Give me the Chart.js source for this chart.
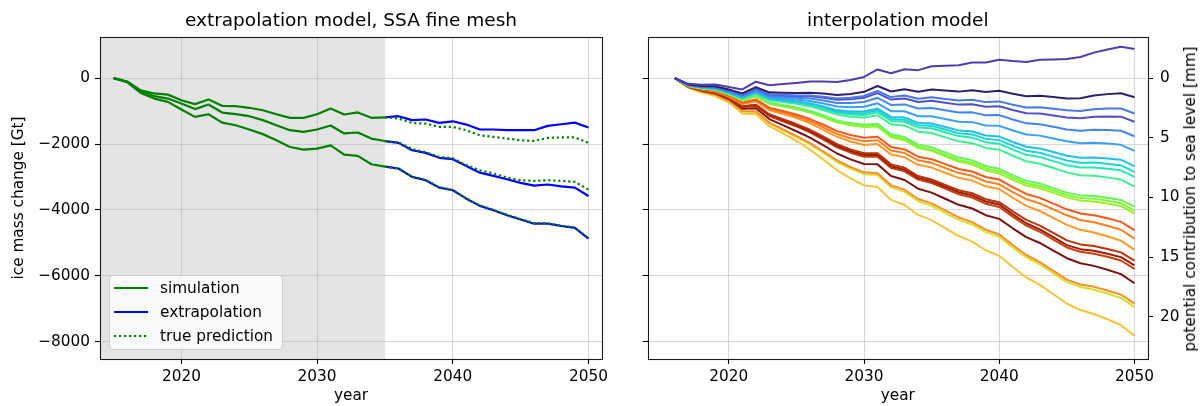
<!DOCTYPE html>
<html><head><meta charset="utf-8">
<script src="https://cdn.jsdelivr.net/npm/chart.js@4.4.1/dist/chart.umd.min.js"></script>
<style>
html,body{margin:0;padding:0;background:#fff;}
body{width:1200px;height:406px;position:relative;overflow:hidden;font-family:"DejaVu Sans",sans-serif;color:#000;}
canvas{position:absolute;top:0;}
#c1{left:0;}
#c2{left:614px;}
#legend{position:absolute;left:109px;top:275px;width:174px;height:75px;box-sizing:border-box;background:rgba(255,255,255,0.8);border:1px solid #cccccc;border-radius:4px;font-size:15.3px;}
.row{position:absolute;left:0;height:20px;width:172px;}
.row svg{position:absolute;left:3px;top:0;}
.row span{position:absolute;left:50px;top:0;line-height:20px;white-space:nowrap;}
#ylab2{position:absolute;left:1190px;top:199px;transform:translate(-50%,-50%) rotate(-90deg);white-space:nowrap;font-size:15.3px;}
</style></head><body>
<canvas id="c1" width="614" height="406"></canvas>
<canvas id="c2" width="586" height="406"></canvas>
<div id="legend"></div>
<div id="ylab2">potential contribution to sea level [mm]</div>
<script>
// ---------- data ----------
const xTicks = [2020, 2030, 2040, 2050];
const gtTicks = [-8000, -6000, -4000, -2000, 0];
const mmTicks = [0, 5, 10, 15, 20];
const shadeEnd = 2035;

const simYears = [2015,2016,2017,2018,2019,2020,2021,2022,2023,2024,2025,2026,2027,2028,2029,2030,2031,2032,2033,2034,2035];
const simA = [0,-100,-370,-465,-500,-670,-790,-650,-840,-850,-900,-975,-1095,-1205,-1205,-1095,-920,-1105,-1040,-1205,-1190];
const simB = [0,-110,-400,-547,-620,-770,-940,-800,-1045,-1095,-1155,-1275,-1430,-1580,-1630,-1560,-1440,-1680,-1650,-1835,-1910];
const simC = [0,-120,-450,-620,-720,-950,-1175,-1095,-1350,-1430,-1560,-1700,-1885,-2090,-2170,-2140,-2040,-2320,-2360,-2615,-2685];

const extYears = [2035,2036,2037,2038,2039,2040,2041,2042,2043,2044,2045,2046,2047,2048,2049,2050];
const extA = [-1190,-1155,-1275,-1255,-1360,-1310,-1410,-1560,-1560,-1580,-1580,-1580,-1450,-1400,-1350,-1500];
const trueA = [-1190,-1225,-1360,-1380,-1480,-1480,-1580,-1735,-1785,-1835,-1885,-1905,-1815,-1800,-1800,-1965];
const extB = [-1910,-1965,-2190,-2270,-2420,-2460,-2665,-2870,-2970,-3070,-3180,-3265,-3230,-3285,-3325,-3580];
const trueB = [-1910,-1950,-2150,-2250,-2390,-2430,-2640,-2800,-2890,-3020,-3100,-3120,-3100,-3120,-3150,-3385];
const extC = [-2685,-2745,-3000,-3100,-3325,-3405,-3660,-3880,-4010,-4165,-4295,-4420,-4420,-4490,-4550,-4875];
const trueC = [-2685,-2750,-2990,-3090,-3310,-3395,-3650,-3870,-4000,-4150,-4280,-4400,-4410,-4480,-4540,-4860];

// interpolation model, sea-level contribution in mm (positive = loss)
const interpYears = [2016,2017,2018,2019,2020,2021,2022,2023,2024,2025,2026,2027,2028,2029,2030,2031,2032,2033,2034,2035,2036,2037,2038,2039,2040,2041,2042,2043,2044,2045,2046,2047,2048,2049,2050];
const interp01 = [0,0.48,0.55,0.53,0.75,0.95,0.3,0.6,0.5,0.4,0.29,0.28,0.32,0.16,-0.1,-0.73,-0.41,-0.74,-0.67,-1.0,-1.04,-1.08,-1.32,-1.31,-1.55,-1.43,-1.36,-1.54,-1.57,-1.6,-1.77,-2.14,-2.41,-2.63,-2.45];
const interp02 = [0,0.53,0.65,0.68,0.95,1.28,0.76,1.19,1.22,1.25,1.22,1.29,1.41,1.33,1.15,0.66,1.12,0.93,1.14,0.95,1.04,1.13,1.02,1.16,1.05,1.31,1.52,1.48,1.59,1.7,1.68,1.46,1.34,1.27,1.6];
const interp03 = [0,0.55,0.7,0.75,1.05,1.4,0.9,1.35,1.4,1.45,1.45,1.55,1.7,1.65,1.5,1.07,1.59,1.46,1.73,1.6,1.74,1.88,1.82,2.01,1.95,2.23,2.46,2.44,2.57,2.7,2.75,2.6,2.55,2.55,2.96];
const interp04 = [0,0.55,0.7,0.75,1.05,1.41,0.92,1.38,1.44,1.5,1.52,1.64,1.81,1.78,1.65,1.25,1.8,1.7,2.0,1.9,2.06,2.22,2.18,2.39,2.35,2.67,2.94,2.96,3.13,3.3,3.37,3.24,3.21,3.23,3.66];
const interp05 = [0,0.56,0.73,0.79,1.1,1.48,1.01,1.49,1.57,1.65,1.71,1.87,2.08,2.09,2.0,1.65,2.25,2.2,2.55,2.5,2.69,2.88,2.87,3.11,3.1,3.47,3.79,3.86,4.08,4.3,4.41,4.33,4.34,4.41,4.87];
const interp06 = [0,0.58,0.75,0.83,1.15,1.55,1.1,1.6,1.7,1.8,1.91,2.12,2.38,2.44,2.4,2.11,2.77,2.78,3.19,3.2,3.43,3.66,3.69,3.97,4.0,4.39,4.73,4.82,5.06,5.3,5.46,5.42,5.48,5.59,6.1];
const interp07 = [0,0.59,0.78,0.86,1.2,1.62,1.19,1.71,1.83,1.95,2.11,2.37,2.68,2.79,2.8,2.55,3.25,3.3,3.75,3.8,4.09,4.38,4.47,4.81,4.9,5.35,5.75,5.9,6.2,6.5,6.68,6.65,6.73,6.85,7.38];
const interp08 = [0,0.59,0.78,0.86,1.2,1.63,1.21,1.74,1.87,2.0,2.18,2.46,2.79,2.92,2.95,2.71,3.42,3.48,3.94,4.0,4.31,4.62,4.73,5.09,5.2,5.67,6.09,6.26,6.58,6.9,7.09,7.08,7.18,7.32,7.86];
const interp09 = [0,0.6,0.8,0.9,1.25,1.68,1.26,1.79,1.92,2.05,2.25,2.55,2.9,3.05,3.1,2.87,3.59,3.66,4.13,4.2,4.53,4.86,4.99,5.37,5.5,5.99,6.43,6.62,6.96,7.3,7.5,7.49,7.59,7.73,8.28];
const interp10 = [0,0.6,0.8,0.9,1.25,1.7,1.3,1.85,2.0,2.15,2.37,2.69,3.06,3.23,3.3,3.11,3.87,3.98,4.49,4.6,4.95,5.3,5.45,5.85,6.0,6.51,6.97,7.18,7.54,7.9,8.14,8.18,8.32,8.51,9.1];
const interp11 = [0,0.61,0.83,0.94,1.3,1.8,1.45,2.05,2.25,2.45,2.73,3.11,3.54,3.77,3.9,3.83,4.71,4.94,5.57,5.8,6.23,6.66,6.89,7.37,7.6,8.13,8.61,8.84,9.22,9.6,9.84,9.88,10.02,10.21,10.8];
const interp12 = [0,0.63,0.85,0.98,1.35,1.86,1.52,2.13,2.34,2.55,2.83,3.21,3.64,3.87,4.0,3.95,4.85,5.1,5.75,6.0,6.43,6.86,7.09,7.57,7.8,8.33,8.81,9.04,9.42,9.8,10.06,10.12,10.28,10.49,11.1];
const interp13 = [0,0.63,0.85,0.98,1.35,1.87,1.54,2.16,2.38,2.6,2.89,3.28,3.72,3.96,4.1,4.05,4.95,5.2,5.85,6.1,6.55,7.0,7.25,7.75,8.0,8.53,9.01,9.24,9.62,10.0,10.27,10.34,10.51,10.73,11.35];
const interp14 = [0,0.65,0.9,1.05,1.45,2.04,1.78,2.47,2.76,3.05,3.43,3.91,4.44,4.77,5.0,4.91,5.77,5.98,6.59,6.8,7.21,7.62,7.83,8.29,8.5,9.13,9.71,10.04,10.52,11.0,11.35,11.5,11.75,12.05,12.75];
const interp15 = [0,0.66,0.93,1.09,1.5,2.11,1.87,2.58,2.89,3.2,3.61,4.12,4.68,5.04,5.3,5.21,6.07,6.28,6.89,7.1,7.53,7.96,8.19,8.67,8.9,9.55,10.15,10.5,11.0,11.5,11.89,12.08,12.37,12.71,13.45];
const interp16 = [0,0.68,0.95,1.13,1.55,2.18,1.96,2.69,3.02,3.35,3.79,4.33,4.92,5.31,5.6,5.53,6.41,6.64,7.27,7.5,7.93,8.36,8.59,9.07,9.3,10.03,10.71,11.14,11.72,12.3,12.72,12.94,13.26,13.63,14.4];
const interp17 = [0,0.7,1.0,1.2,1.65,2.36,2.22,3.03,3.44,3.85,4.33,4.91,5.54,5.97,6.3,6.29,7.23,7.52,8.21,8.5,8.95,9.4,9.65,10.15,10.4,11.17,11.89,12.36,12.98,13.6,13.94,14.08,14.32,14.61,15.3];
const interp18 = [0,0.7,1.0,1.2,1.65,2.38,2.26,3.09,3.52,3.95,4.44,5.03,5.67,6.11,6.45,6.44,7.38,7.67,8.36,8.65,9.11,9.57,9.83,10.34,10.6,11.41,12.17,12.68,13.34,14.0,14.34,14.48,14.72,15.01,15.7];
const interp19 = [0,0.71,1.03,1.24,1.7,2.44,2.33,3.17,3.61,4.05,4.55,5.15,5.8,6.25,6.6,6.59,7.53,7.82,8.51,8.8,9.27,9.74,10.01,10.53,10.8,11.61,12.37,12.88,13.54,14.2,14.56,14.72,14.98,15.29,16.0];
const interp20 = [0,0.73,1.05,1.28,1.75,2.56,2.52,3.43,3.94,4.45,4.99,5.63,6.32,6.81,7.2,7.23,8.21,8.54,9.27,9.6,10.11,10.62,10.93,11.49,11.8,12.59,13.33,13.82,14.46,15.1,15.52,15.74,16.06,16.43,17.2];
const interp21 = [0,0.76,1.13,1.39,1.9,2.76,2.77,3.73,4.29,4.85,5.45,6.15,6.9,7.45,7.9,7.97,8.99,9.36,10.13,10.5,11.09,11.68,12.07,12.71,13.1,13.99,14.83,15.42,16.16,16.9,17.3,17.5,17.8,18.15,18.9];
const interp22 = [0,0.78,1.15,1.43,1.95,2.82,2.84,3.81,4.38,4.95,5.56,6.27,7.03,7.59,8.05,8.13,9.16,9.54,10.32,10.7,11.29,11.88,12.27,12.91,13.3,14.19,15.03,15.62,16.36,17.1,17.52,17.74,18.06,18.43,19.2];
const interp23 = [0,0.8,1.2,1.5,2.05,2.96,3.02,4.03,4.64,5.25,5.99,6.83,7.72,8.41,9.0,9.13,10.21,10.64,11.47,11.9,12.57,13.24,13.71,14.43,14.9,15.83,16.71,17.34,18.12,18.9,19.44,19.78,20.22,20.71,21.6];
const interpSeries = [interp01,interp02,interp03,interp04,interp05,interp06,interp07,interp08,interp09,interp10,interp11,interp12,interp13,interp14,interp15,interp16,interp17,interp18,interp19,interp20,interp21,interp22,interp23];
const interpColors = ['#4b3fb0','#2f1f6b','#4a78e8','#5250c8','#4486f0','#3aa0f5','#22c0e8','#1dd5d0','#2ae6b0','#40f090','#66f55a','#86f53a','#9cef2c','#f05a1c','#ff7f1e','#ff9a2c','#b9340a','#9a1c04','#c8400c','#7a1212','#ff8c2e','#d4e22e','#f4c53a'];

const legendItems = ['simulation', 'extrapolation', 'true prediction'];

// ---------- helpers ----------
Chart.defaults.font.family = "'DejaVu Sans', sans-serif";
Chart.defaults.color = '#000';
const FS = 15.3;
const gridColor = 'rgba(176,176,176,0.5)';
const toXY = (xs, ys) => xs.map((x, i) => ({x: x, y: ys[i]}));
const fmtMinus = v => String(v).replace('-', '\u2212');

const shadePlugin = {
  id: 'shade',
  beforeDraw(chart, args, opts) {
    if (opts.until === undefined) return;
    const {ctx, chartArea: a, scales} = chart;
    const xr = scales.x.getPixelForValue(opts.until);
    ctx.save();
    ctx.fillStyle = opts.color;
    ctx.fillRect(a.left, a.top, xr - a.left, a.bottom - a.top);
    ctx.restore();
  }
};
const framePlugin = {
  id: 'frame',
  afterDraw(chart) {
    const {ctx, chartArea: a} = chart;
    ctx.save();
    ctx.strokeStyle = '#1a1a1a';
    ctx.lineWidth = 1.1;
    ctx.strokeRect(Math.round(a.left) + 0.5, Math.round(a.top) + 0.5, Math.round(a.right - a.left), Math.round(a.bottom - a.top));
    ctx.restore();
  }
};

function xScale() {
  return {
    type: 'linear', position: 'bottom', min: 2014, max: 2051,
    afterBuildTicks: s => { s.ticks = xTicks.map(v => ({value: v})); },
    afterFit: s => { s.height = 47; },
    ticks: {callback: v => String(v), font: {size: FS}, color: '#000', padding: 4, maxRotation: 0, autoSkip: false},
    grid: {color: gridColor, lineWidth: 1, tickLength: 5, tickColor: '#000', tickWidth: 1.1},
    border: {display: false},
    title: {display: true, text: 'year', color: '#000', font: {size: FS}, padding: {top: 0, bottom: 1}}
  };
}
function gtScale(width, showLabels, title) {
  return {
    type: 'linear', position: 'left', min: -8530, max: 1250,
    afterBuildTicks: s => { s.ticks = gtTicks.map(v => ({value: v})); },
    afterFit: s => { s.width = width; },
    ticks: {display: showLabels, callback: fmtMinus, font: {size: FS}, color: '#000', padding: 5},
    grid: {color: gridColor, lineWidth: 1, tickLength: 5, tickColor: '#000', tickWidth: 1.1},
    border: {display: false},
    title: {display: !!title, text: title || '', color: '#000', font: {size: FS}, padding: {top: 10, bottom: 0}}
  };
}
function line(data, color, extra) {
  return Object.assign({data: data, borderColor: color, backgroundColor: color, borderWidth: 2.2,
    pointRadius: 0, tension: 0, fill: false, borderJoinStyle: 'round', borderCapStyle: 'butt'}, extra || {});
}

// ---------- left chart ----------
const green = '#008000', blue = '#0000ff';
const dotted = {borderDash: [2.2, 2.8], borderWidth: 2.2};
new Chart(document.getElementById('c1'), {
  type: 'line',
  data: {datasets: [
    line(toXY(extYears, trueA), green, dotted),
    line(toXY(extYears, trueB), green, dotted),
    line(toXY(extYears, trueC), green, dotted),
    line(toXY(extYears, extA), blue),
    line(toXY(extYears, extB), blue),
    line(toXY(extYears, extC), blue),
    line(toXY(simYears, simA), green),
    line(toXY(simYears, simB), green),
    line(toXY(simYears, simC), green)
  ]},
  options: {
    responsive: false, animation: false, devicePixelRatio: 1,
    layout: {padding: {left: 0, right: 12, top: 0, bottom: 0}},
    parsing: false,
    scales: {x: xScale(), y: gtScale(100, true, 'ice mass change [Gt]')},
    plugins: {
      legend: {display: false}, tooltip: {enabled: false},
      title: {display: true, text: 'extrapolation model, SSA fine mesh', color: '#000', fullSize: false,
              font: {size: 18.5, weight: 'normal'}, padding: {top: 10, bottom: 4.8}},
      shade: {until: shadeEnd, color: '#e4e4e4'}
    }
  },
  plugins: [shadePlugin, framePlugin]
});

// ---------- right chart ----------
new Chart(document.getElementById('c2'), {
  type: 'line',
  data: {datasets: interpSeries.map((s, i) => line(toXY(interpYears, s), interpColors[i], {borderWidth: 2, yAxisID: 'y2'}))},
  options: {
    responsive: false, animation: false, devicePixelRatio: 1,
    layout: {padding: 0},
    parsing: false,
    scales: {
      x: xScale(),
      y: gtScale(33.7, false, null),
      y2: {
        type: 'linear', position: 'right', min: -3.45, max: 23.55, reverse: true,
        afterBuildTicks: s => { s.ticks = mmTicks.map(v => ({value: v})); },
        afterFit: s => { s.width = 52; },
        ticks: {callback: v => String(v), font: {size: FS}, color: '#000', padding: 7},
        grid: {drawOnChartArea: false, tickLength: 5, tickColor: '#000', tickWidth: 1.1},
        border: {display: false}
      }
    },
    plugins: {
      legend: {display: false}, tooltip: {enabled: false},
      title: {display: true, text: 'interpolation model', color: '#000', fullSize: false,
              font: {size: 18.5, weight: 'normal'}, padding: {top: 10, bottom: 4.8}}
    }
  },
  plugins: [framePlugin]
});

// ---------- legend (HTML) ----------
const lg = document.getElementById('legend');
const legendStyles = [{c: green, d: ''}, {c: blue, d: ''}, {c: green, d: '2.2,2.8'}];
legendItems.forEach((t, i) => {
  const row = document.createElement('div');
  row.className = 'row';
  row.style.top = (2 + i * 24) + 'px';
  const st = legendStyles[i];
  row.innerHTML = '<svg width="36" height="20"><line x1="1" y1="10" x2="35" y2="10" stroke="' + st.c +
    '" stroke-width="2.2"' + (st.d ? ' stroke-dasharray="' + st.d + '"' : '') + '/></svg><span>' + t + '</span>';
  lg.appendChild(row);
});
</script>
</body></html>
